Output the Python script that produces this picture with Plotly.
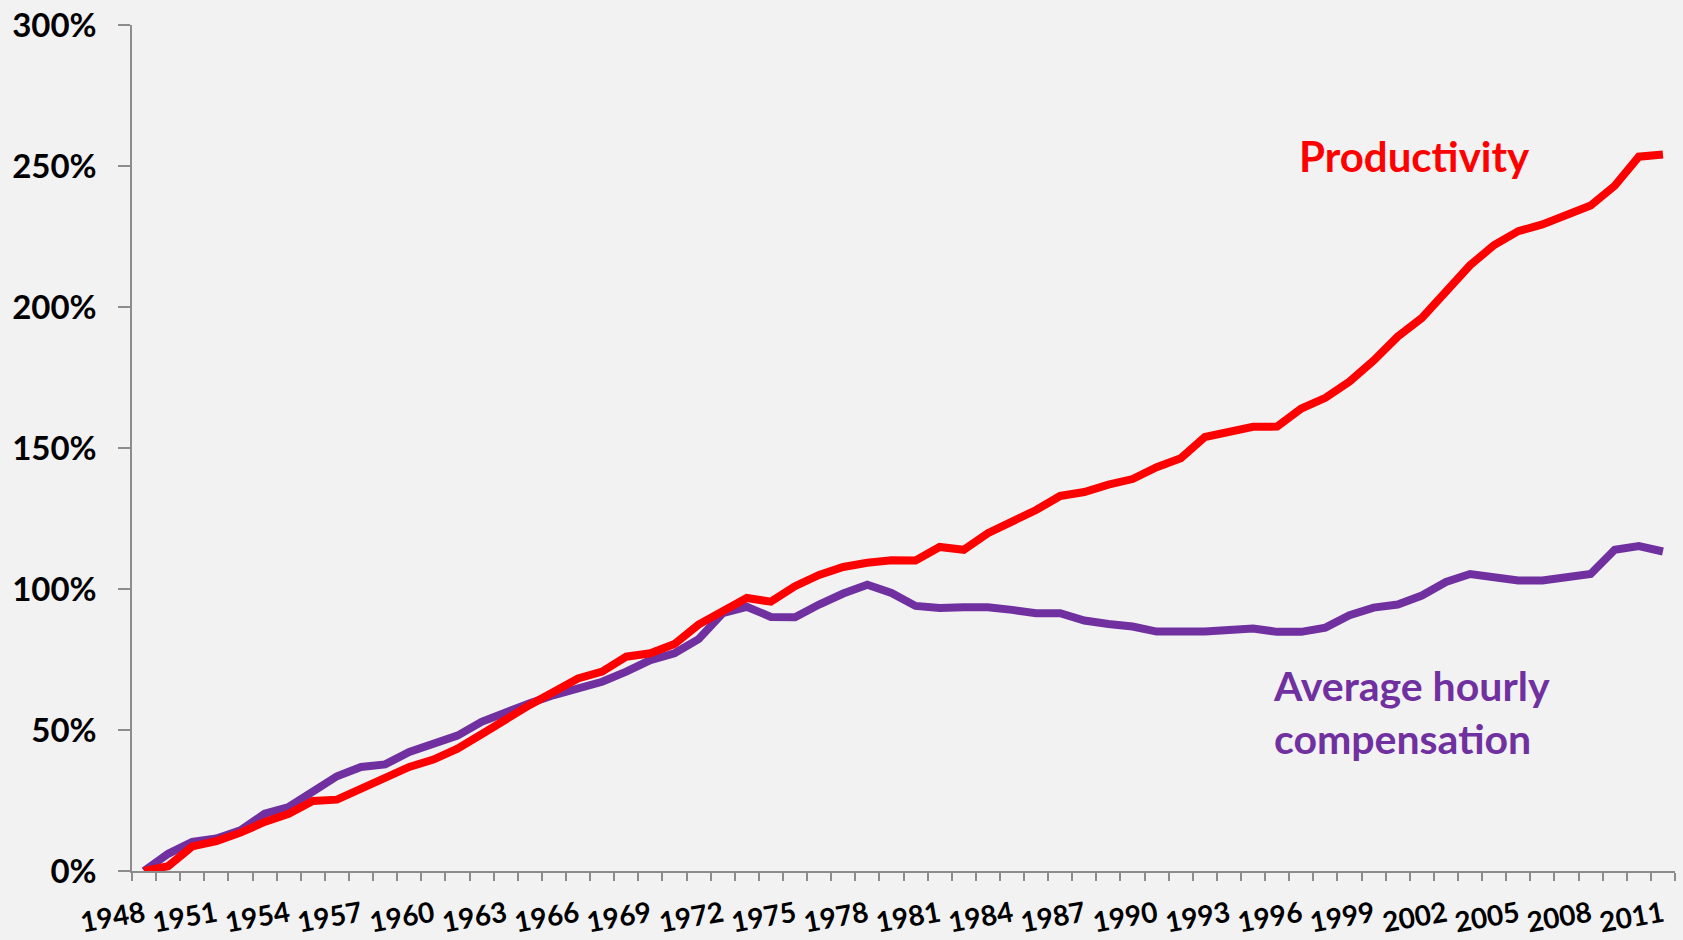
import plotly.graph_objects as go

# Years on the category axis, labelled every third year
years = [str(y) for y in range(1948, 2012)]
year_labels = [y if (int(y) - 1948) % 3 == 0 else "" for y in years]

# Cumulative % change since 1948
productivity = [
    0, 1.7, 8.7, 10.6, 13.6, 17.4, 20.3, 24.8, 25.3, 29.2,
    32.7, 36.9, 39.5, 43.4, 48.5, 54.1, 58.9, 63.6, 68.3, 70.7,
    76.0, 77.2, 80.5, 87.4, 92.3, 96.8, 95.5, 101.0, 105.0, 107.8,
    109.3, 110.2, 110.1, 114.9, 113.9, 119.8, 123.9, 128.0, 133.0, 134.4,
    137.0, 139.0, 143.2, 146.4, 153.9, 155.4, 157.5, 157.6, 164.0, 167.8,
    173.6, 181.0, 189.5, 196.1, 205.6, 214.8, 222.0, 226.9, 229.3, 233.0,
    236.0, 243.0, 253.3, 254.1,
]
compensation = [
    0, 6.1, 10.3, 11.5, 14.4, 20.3, 22.7, 28.0, 33.6, 36.9,
    37.8, 42.2, 45.2, 48.0, 52.9, 56.5, 59.5, 62.4, 64.8, 67.1,
    70.7, 74.8, 77.2, 82.2, 91.4, 93.7, 90.1, 90.0, 94.5, 98.4,
    101.5, 98.6, 94.0, 93.3, 93.5, 93.5, 92.6, 91.4, 91.4, 88.8,
    87.6, 86.7, 84.9, 84.6, 84.9, 85.5, 86.0, 84.8, 84.8, 86.3,
    90.7, 93.4, 94.5, 97.7, 102.5, 105.3, 104.0, 103.0, 103.0, 104.0,
    105.3, 113.9, 115.2, 113.3,
]

RED = "#FF0000"
PURPLE = "#7030A0"
AXIS = "#8C8C8C"
FONT = "Lato"

fig = go.Figure()
fig.add_trace(go.Scatter(x=years, y=compensation, mode="lines",
                         line={"color": PURPLE, "width": 8}, name="Average hourly compensation"))
fig.add_trace(go.Scatter(x=years, y=productivity, mode="lines",
                         line={"color": RED, "width": 8}, name="Productivity"))

fig.add_annotation(text="Productivity", xref="paper", yref="paper", x=0.831, y=0.845,
                   xanchor="center", yanchor="middle", showarrow=False,
                   font={"family": FONT, "size": 42, "color": RED, "weight": "bold"})
fig.add_annotation(text="Average hourly<br>compensation", xref="paper", yref="paper",
                   x=0.738, y=0.188, xanchor="left", yanchor="middle", align="left",
                   showarrow=False,
                   font={"family": FONT, "size": 41, "color": PURPLE, "weight": "bold"})

# category axis: points sit in the middle of each year slot, ticks on the slot edges
fig.update_xaxes(
    type="category",
    range=[-0.5, len(years) - 0.5],
    tickmode="array",
    tickvals=years,
    ticktext=year_labels,
    tickson="boundaries",
    ticks="outside",
    ticklen=8,
    tickwidth=1.5,
    tickcolor=AXIS,
    tickangle=-10,
    ticklabelstandoff=15,
    showline=True,
    linecolor=AXIS,
    linewidth=1.5,
    showgrid=False,
    zeroline=False,
    automargin=False,
    tickfont={"family": FONT, "size": 28, "color": "black", "weight": "bold"},
)
fig.update_yaxes(
    range=[0, 300],
    tickmode="linear",
    tick0=0,
    dtick=50,
    ticksuffix="%",
    ticks="outside",
    ticklen=12,
    tickwidth=1.5,
    tickcolor=AXIS,
    ticklabelstandoff=15,
    showline=True,
    linecolor=AXIS,
    linewidth=1.5,
    showgrid=False,
    zeroline=False,
    automargin=False,
    tickfont={"family": FONT, "size": 33, "color": "black", "weight": "bold"},
)
fig.update_layout(
    width=1683,
    height=940,
    margin={"l": 132, "r": 8, "t": 25, "b": 69},
    paper_bgcolor="#F2F2F2",
    plot_bgcolor="#F2F2F2",
    showlegend=False,
)

# page has no body margin so the figure sits flush with the window
fig.write_html("out.html", config={"displayModeBar": False},
               post_script="document.body.style.margin='0';")
